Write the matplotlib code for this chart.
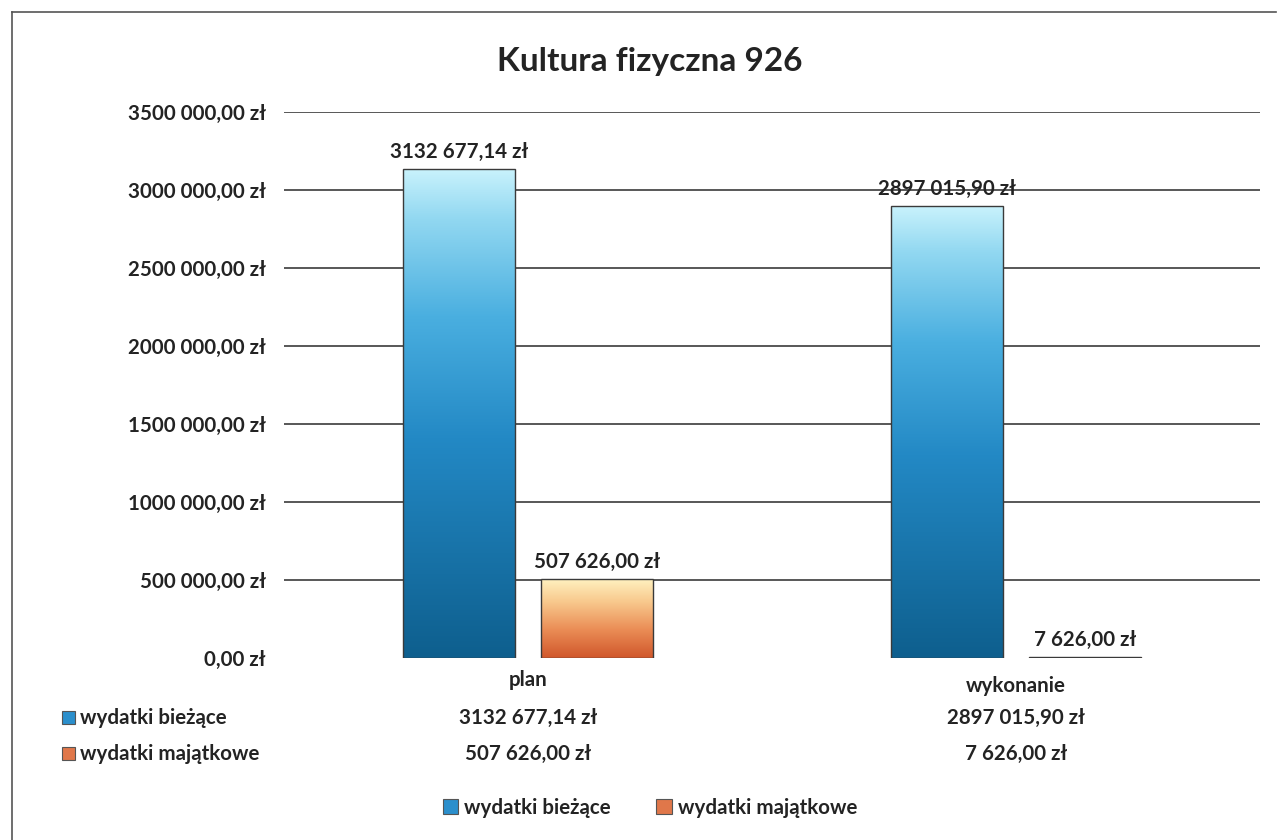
import numpy as np
import matplotlib.pyplot as plt
from matplotlib.colors import LinearSegmentedColormap
from matplotlib.patches import Rectangle
from matplotlib.lines import Line2D

plt.rcParams["font.family"] = ["Lato", "DejaVu Sans"]
plt.rcParams["font.weight"] = "bold"

categories = ["plan", "wykonanie"]
series_names = ["wydatki bieżące", "wydatki majątkowe"]
biezace = [3132677.14, 2897015.90]
majatkowe = [507626.00, 7626.00]
yticks = [0, 500000, 1000000, 1500000, 2000000, 2500000, 3000000, 3500000]
title = "Kultura fizyczna 926"

text_color = "#232323"
fs = 14.8
blue_cmap = LinearSegmentedColormap.from_list(
    "blue", [(0.0, "#c8f2fc"), (0.1, "#92d8f1"), (0.3, "#4aafe0"),
             (0.55, "#2389c5"), (1.0, "#0e5f8e")])
orange_cmap = LinearSegmentedColormap.from_list(
    "orange", [(0.0, "#fff3c2"), (0.3, "#f8c88c"), (0.65, "#ea8c55"),
               (1.0, "#d0572b")])


def zl(v):
    cents = int(round(v * 100))
    whole, frac = divmod(cents, 100)
    if whole >= 1000:
        s = f"{whole // 1000} {whole % 1000:03d}"
    else:
        s = f"{whole}"
    return f"{s},{frac:02d} zł"


fig = plt.figure(figsize=(12.78, 8.4), dpi=100)
W, H = 1278, 840


def fx(px):
    return px / W


def fy(py):
    return 1 - py / H


# outer frame of the chart
fig.add_artist(Line2D([fx(12), fx(12)], [fy(12), 0], color="#555555", lw=1.2))
fig.add_artist(Line2D([fx(12), fx(1276)], [fy(12), fy(12)], color="#555555", lw=1.2))

left, right = 284, 1260
ax = fig.add_axes([fx(left), fy(658), fx(right) - fx(left), (658 - 112) / H])
ax.set_xlim(0, 2)
ax.set_ylim(0, 3500000)
for s in ax.spines.values():
    s.set_visible(False)

ax.set_yticks(yticks)
ax.set_yticklabels([zl(v) for v in yticks], fontsize=fs, fontweight="bold",
                   color=text_color)
ax.tick_params(axis="y", length=0, pad=13)
ax.set_xticks([])
ax.grid(axis="y", color="#4a4a4a", lw=1.3)
ax.set_axisbelow(True)
ax.yaxis.get_gridlines()[0].set_visible(False)

x = np.arange(len(categories)) + 0.5
width = 0.23
offset = 0.142
grad = np.linspace(0, 1, 256).reshape(-1, 1)

for vals, sign, cmap in [(biezace, -1, blue_cmap), (majatkowe, 1, orange_cmap)]:
    bars = ax.bar(x + sign * offset, vals, width, color="none",
                  edgecolor="#3a3a3a", lw=1.0, zorder=3)
    for rect, v in zip(bars, vals):
        x0 = rect.get_x()
        im = ax.imshow(grad, cmap=cmap, aspect="auto", origin="upper",
                       extent=(x0, x0 + width, 0, v), zorder=2)
        im.set_clip_path(rect)
        ax.annotate(zl(v), (x0 + width / 2, v), xytext=(0, 5),
                    textcoords="offset points", ha="center", va="bottom",
                    fontsize=fs, fontweight="bold", color=text_color)

ax.set_xlim(0, 2)
ax.set_ylim(0, 3500000)

# category labels and data table under the plot
span = (right - left) / 2
cat_y = [680, 686]
for xc, c, yy in zip(x, categories, cat_y):
    fig.text(fx(left + xc * span), fy(yy), c, ha="center", va="center",
             fontsize=fs, fontweight="bold", color=text_color)

row_y = [718, 754]
row_colors = ["#2b8fcc", "#e0774a"]
for name, yy, col, vals in zip(series_names, row_y, row_colors, [biezace, majatkowe]):
    fig.add_artist(Rectangle((fx(62), fy(yy + 6)), fx(13), 13 / H,
                             facecolor=col, edgecolor="#555555", lw=0.8))
    fig.text(fx(80), fy(yy), name, ha="left", va="center",
             fontsize=fs, fontweight="bold", color=text_color)
    for xc, v in zip(x, vals):
        fig.text(fx(left + xc * span), fy(yy), zl(v), ha="center", va="center",
                 fontsize=fs, fontweight="bold", color=text_color)

handles = [Rectangle((0, 0), 1, 1, facecolor=c, edgecolor="#555555", lw=0.8)
           for c in row_colors]
fig.legend(handles, series_names, loc="center", ncol=2,
           bbox_to_anchor=(fx(650), fy(808)), frameon=False,
           prop={"size": fs, "weight": "bold"}, labelcolor=text_color,
           handlelength=0.75, handleheight=0.75, handletextpad=0.3,
           columnspacing=2.2)

fig.text(fx(650), fy(62), title, ha="center", va="center",
         fontsize=24, fontweight="bold", color=text_color)

fig.savefig("out.png", dpi=100)
